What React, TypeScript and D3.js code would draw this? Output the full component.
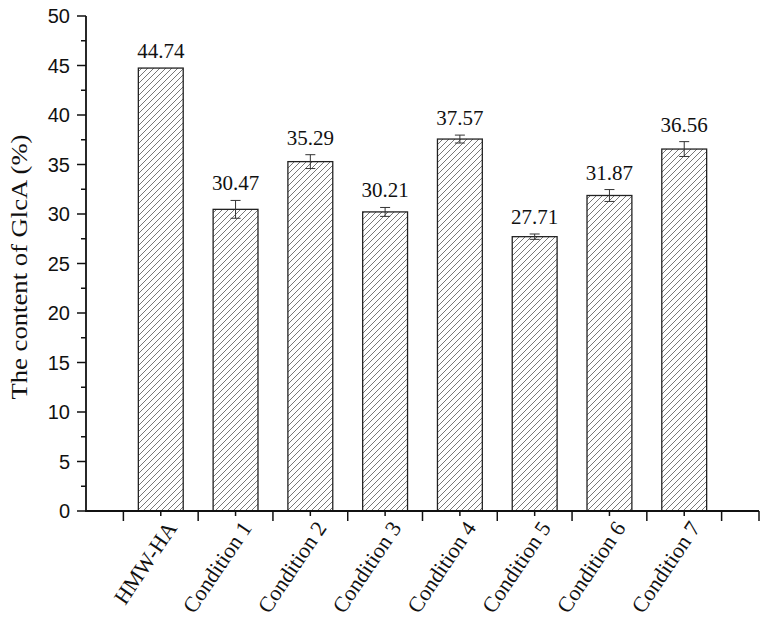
import React from "react";
import * as d3 from "d3";

const categories = ["HMW-HA", "Condition 1", "Condition 2", "Condition 3", "Condition 4", "Condition 5", "Condition 6", "Condition 7"];
const values = [44.74, 30.47, 35.29, 30.21, 37.57, 27.71, 31.87, 36.56];
const errors = [0, 0.9, 0.7, 0.45, 0.4, 0.27, 0.6, 0.75];
const yTicks = [0, 5, 10, 15, 20, 25, 30, 35, 40, 45, 50];

const W = 763, H = 631;
const x0 = 86, x1 = 759, y0 = 511, y1 = 16;

export default function App() {
  const x = d3.scaleLinear().domain([0, categories.length + 1]).range([x0, x1]);
  const y = d3.scaleLinear().domain([0, 50]).range([y0, y1]);
  const step = x(1) - x(0);
  const bw = step * 0.6;
  const minorY = d3.range(2.5, 50, 5);
  const majorX = [...d3.range(0.5, categories.length + 1, 1), categories.length + 1];
  const minorX = d3.range(1, categories.length + 1, 1);
  const serif = "'Liberation Serif', 'Times New Roman', serif";
  const sans = "'Liberation Sans', Arial, sans-serif";
  return (
    <svg width={W} height={H} style={{ position: "absolute", left: 0, top: 0, background: "#fff" }}>
      <defs>
        <pattern id="hatch" patternUnits="userSpaceOnUse" width={6} height={6}>
          <path d="M0,6 L6,0 M-1.5,1.5 L1.5,-1.5 M4.5,7.5 L7.5,4.5" stroke="#555" strokeWidth={0.8} />
        </pattern>
      </defs>
      {values.map((v, i) => {
        const cx = x(i + 1);
        return (
          <g key={i}>
            <rect x={cx - bw / 2} y={y(v)} width={bw} height={y(0) - y(v)} fill="url(#hatch)" stroke="#222" strokeWidth={1.3} />
            {errors[i] > 0 && (
              <g stroke="#333" strokeWidth={1}>
                <line x1={cx} x2={cx} y1={y(v + errors[i])} y2={y(v - errors[i])} />
                <line x1={cx - 5} x2={cx + 5} y1={y(v + errors[i])} y2={y(v + errors[i])} />
                <line x1={cx - 5} x2={cx + 5} y1={y(v - errors[i])} y2={y(v - errors[i])} />
              </g>
            )}
            <text x={cx} y={y(v + errors[i]) - 10} textAnchor="middle" fontFamily={serif} fontSize={21} fill="#111">
              {v.toFixed(2)}
            </text>
            <text
              transform={`translate(${cx + 17},${y0 + 17}) rotate(-56)`}
              textAnchor="end"
              fontFamily={serif}
              fontSize={22}
              fill="#111"
            >
              {categories[i]}
            </text>
          </g>
        );
      })}
      {/* y axis */}
      <line x1={x0} x2={x0} y1={y1} y2={y0} stroke="#111" strokeWidth={1.8} />
      {yTicks.map((t) => (
        <g key={t}>
          <line x1={x0 - 9} x2={x0} y1={y(t)} y2={y(t)} stroke="#111" strokeWidth={1.5} />
          <text x={x0 - 16} y={y(t)} dy="0.36em" textAnchor="end" fontFamily={sans} fontSize={20} fill="#111">
            {t}
          </text>
        </g>
      ))}
      {minorY.map((t) => (
        <line key={t} x1={x0 - 5} x2={x0} y1={y(t)} y2={y(t)} stroke="#111" strokeWidth={1.5} />
      ))}
      {/* x axis */}
      <line x1={x0 - 1} x2={x1} y1={y0} y2={y0} stroke="#111" strokeWidth={1.8} />
      {majorX.map((t) => (
        <line key={t} x1={x(t)} x2={x(t)} y1={y0} y2={y0 + 10} stroke="#111" strokeWidth={1.5} />
      ))}
      {minorX.map((t) => (
        <line key={t} x1={x(t)} x2={x(t)} y1={y0} y2={y0 + 5} stroke="#111" strokeWidth={1.5} />
      ))}
      <text
        transform={`translate(27,${267}) rotate(-90)`}
        textAnchor="middle"
        fontFamily={serif}
        fontSize={24}
        textLength={265}
        lengthAdjust="spacingAndGlyphs"
        fill="#111"
      >
        The content of GlcA (%)
      </text>
    </svg>
  );
}
